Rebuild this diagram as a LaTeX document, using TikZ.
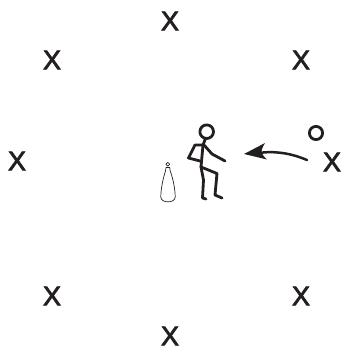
\documentclass[tikz,border=0pt]{standalone}
\usepackage{fontspec}
\setmainfont{Liberation Sans}
\newfontfamily\xmarkfont[FakeBold=2.8]{Liberation Sans}
\definecolor{ink}{HTML}{231F20}
\tikzset{
  mark x/.style={inner sep=0pt,text=ink,font=\xmarkfont\fontsize{27}{27}\selectfont},
  figure line/.style={draw=ink,line width=2.8pt,line cap=round,line join=round},
  thin line/.style={draw=ink,line width=0.7pt,line join=round}
}
\begin{document}
\begin{tikzpicture}[x=1pt,y=-1pt]
\useasboundingbox (0,0) rectangle (344,350);
\node[mark x] (x1) at (170,21) {X};
\node[mark x] (x2) at (52,60) {X};
\node[mark x] (x3) at (301,60) {X};
\node[mark x] (x4) at (17,161) {X};
\node[mark x] (x5) at (332,162) {X};
\node[mark x] (x6) at (52,296) {X};
\node[mark x] (x7) at (301,296) {X};
\node[mark x] (x8) at (170,336) {X};
% ball
\draw[figure line] (316,133) circle (6.6);
% player
\draw[figure line] (206.7,131.7) circle (6.8);
\draw[figure line] (205.5,138.5) -- (203,145) -- (201,167);
\draw[figure line] (203,145) -- (195,145) -- (188.5,158) -- (200,161);
\draw[figure line] (204,145) -- (212,154) -- (225,161);
\draw[figure line] (201,167) -- (203.5,180) -- (202.5,198) -- (206,199);
\draw[figure line] (201,167) -- (217,173.5) -- (215,195) -- (222,198);
% cone
\draw[thin line] (167.8,164.2) circle (1.9);
\draw[thin line] (166,167.5) -- (169.7,167.5) -- (170.2,171) .. controls (172.5,177) and (175.2,188) .. (175.2,197) .. controls (175.2,203.5) and (160.8,203.5) .. (160.8,197) .. controls (160.8,188) and (163.5,177) .. (165.5,171) -- cycle;
% arrow
\coordinate (tail) at (307,160);
\coordinate (notch) at (262,152.6);
\coordinate (tip) at (244,154);
\draw[draw=ink,line width=2.5pt,line cap=round] (tail) .. controls (293,154) and (278,151) .. (notch);
\fill[ink] (tip) -- (265,143) .. controls (262,148) and (261,151) .. (notch) .. controls (262,154) and (264,157) .. (267,159.5) -- cycle;
\end{tikzpicture}
\end{document}
